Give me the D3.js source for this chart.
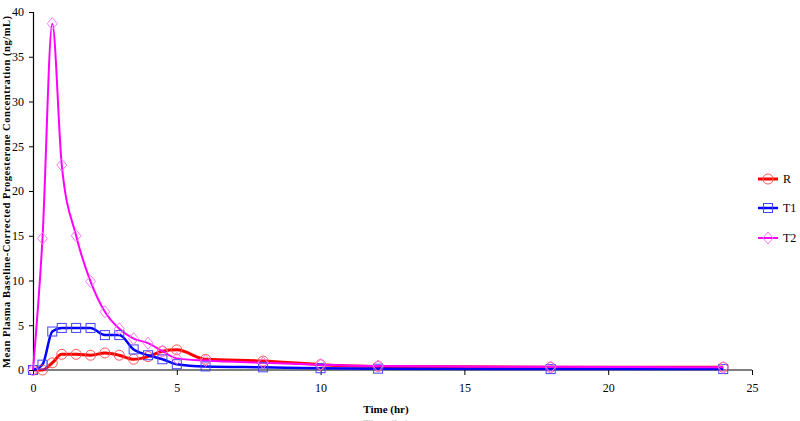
<!DOCTYPE html>
<html><head><meta charset="utf-8">
<script src="https://cdn.jsdelivr.net/npm/d3@7"></script>
<style>body{margin:0;background:#fff}svg{display:block}</style>
</head><body>
<svg id="c" width="800" height="421"></svg>
<script>
const times = [0, 0.33, 0.67, 1, 1.5, 2, 2.5, 3, 3.5, 4, 4.5, 5, 6, 8, 10, 12, 18, 24];
const seriesR  = [0, 0, 0.8, 1.75, 1.75, 1.65, 1.9, 1.65, 1.2, 1.5, 2.1, 2.25, 1.2, 1.0, 0.6, 0.4, 0.3, 0.3];
const seriesT1 = [0, 0.6, 4.3, 4.7, 4.7, 4.7, 3.9, 3.9, 2.3, 1.65, 1.2, 0.65, 0.4, 0.3, 0.2, 0.15, 0.1, 0.1];
const seriesT2 = [0, 14.7, 38.7, 22.9, 15.0, 9.9, 6.5, 4.6, 3.5, 3.0, 2.1, 1.3, 1.05, 0.8, 0.6, 0.45, 0.35, 0.3];
const xTicks = [0, 5, 10, 15, 20, 25];
const yTicks = [0, 5, 10, 15, 20, 25, 30, 35, 40];
const seriesNames = ["R", "T1", "T2"];

const svg = d3.select("#c");
const x = d3.scaleLinear().domain([0, 25]).range([33, 752]);
const y = d3.scaleLinear().domain([0, 40]).range([370, 12]);
const font = "'Liberation Serif','Times New Roman',serif";

const series = [
  {name: "R",  vals: seriesR,  line: "#ff0000", mark: "#ff5555", w: 3, shape: "circle"},
  {name: "T1", vals: seriesT1, line: "#0000ff", mark: "#4444ff", w: 2.5, shape: "square"},
  {name: "T2", vals: seriesT2, line: "#ff00ff", mark: "#ff77ff", w: 2, shape: "diamond"}
];

function marker(g, shape, cx, cy, color) {
  if (shape === "circle") {
    g.append("circle").attr("cx", cx).attr("cy", cy).attr("r", 5)
      .attr("fill", "none").attr("stroke", color).attr("stroke-width", 1);
  } else if (shape === "square") {
    g.append("rect").attr("x", cx - 4.5).attr("y", cy - 4.5).attr("width", 9).attr("height", 9)
      .attr("fill", "none").attr("stroke", color).attr("stroke-width", 1);
  } else {
    g.append("path").attr("d", `M${cx},${cy-6}L${cx+5},${cy}L${cx},${cy+6}L${cx-5},${cy}Z`)
      .attr("fill", "none").attr("stroke", color).attr("stroke-width", 1);
  }
}

// axes
const xAxis = svg.append("g").attr("transform", `translate(0,${y(0)})`)
  .call(d3.axisBottom(x).tickValues(xTicks).tickSize(5).tickPadding(8).tickFormat(d3.format("d")));
const yAxis = svg.append("g").attr("transform", `translate(${x(0)},0)`)
  .call(d3.axisLeft(y).tickValues(yTicks).tickSize(4).tickPadding(5).tickFormat(d3.format("d")));
[xAxis, yAxis].forEach(a => {
  a.select(".domain").attr("stroke", "#000").attr("stroke-width", 1.2);
  a.selectAll(".tick line").attr("stroke", "#000");
  a.selectAll("text").attr("font-family", font).attr("font-size", 12).attr("fill", "#000");
});
xAxis.select(".domain").attr("d", `M${x(0)},0H${x(25)}`);
xAxis.selectAll(".tick line").attr("y1", 0);

// lines + markers
series.forEach(s => {
  const pts = times.map((t, i) => [t, s.vals[i]]);
  svg.append("path").datum(pts)
    .attr("d", d3.line().x(d => x(d[0])).y(d => y(d[1])).curve(d3.curveMonotoneX))
    .attr("fill", "none").attr("stroke", s.line).attr("stroke-width", s.w)
    .attr("stroke-linejoin", "round");
});
series.forEach(s => {
  const g = svg.append("g");
  times.forEach((t, i) => marker(g, s.shape, x(t), y(s.vals[i]), s.mark));
});

// legend
const legY = [179, 208, 238];
series.forEach((s, i) => {
  const g = svg.append("g");
  g.append("line").attr("x1", 758).attr("x2", 778).attr("y1", legY[i]).attr("y2", legY[i])
    .attr("stroke", s.line).attr("stroke-width", s.w);
  marker(g, s.shape, 768, legY[i], s.mark);
  g.append("text").attr("x", 783).attr("y", legY[i] + 4).text(seriesNames[i])
    .attr("font-family", font).attr("font-size", 12);
});

// axis titles
svg.append("text").attr("x", 386).attr("y", 413).attr("text-anchor", "middle")
  .attr("font-family", font).attr("font-size", 11).attr("font-weight", "bold").text("Time (hr)");
svg.append("text").attr("x", 386).attr("y", 427).attr("text-anchor", "middle")
  .attr("font-family", font).attr("font-size", 11).attr("font-weight", "bold").attr("fill", "#ccc").text("Time (hr)");
svg.append("text").attr("transform", "translate(10,192) rotate(-90)").attr("text-anchor", "middle")
  .attr("font-family", font).attr("font-size", 10.5).attr("font-weight", "bold")
  .attr("textLength", 352).attr("lengthAdjust", "spacing")
  .text("Mean Plasma Baseline-Corrected Progesterone Concentration (ng/mL)");
</script>
</body></html>
